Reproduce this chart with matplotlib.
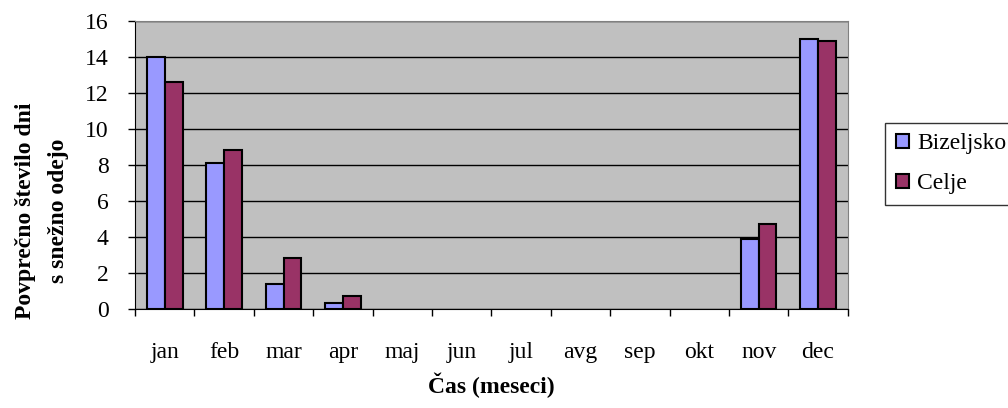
import numpy as np
import matplotlib.pyplot as plt
from matplotlib.patches import Patch

months = ['jan', 'feb', 'mar', 'apr', 'maj', 'jun', 'jul', 'avg', 'sep', 'okt', 'nov', 'dec']
bizeljsko = [14.0, 8.1, 1.4, 0.3, 0, 0, 0, 0, 0, 0, 3.9, 15.0]
celje = [12.6, 8.8, 2.8, 0.7, 0, 0, 0, 0, 0, 0, 4.7, 14.9]
yticks = [0, 2, 4, 6, 8, 10, 12, 14, 16]

plt.rcParams['font.family'] = ['Liberation Serif', 'DejaVu Serif']

fig = plt.figure(figsize=(10.08, 4.08), dpi=100)
ax = fig.add_axes([0.134, 0.243, 0.707, 0.706])
ax.set_facecolor('#c0c0c0')

x = np.arange(len(months))
w = 0.3


def edges(vals):
    # empty months get no outline
    return ['black' if v > 0 else 'none' for v in vals]


ax.bar(x - w / 2, bizeljsko, w, color='#9999ff', edgecolor=edges(bizeljsko), linewidth=1.5, zorder=3)
ax.bar(x + w / 2, celje, w, color='#993366', edgecolor=edges(celje), linewidth=1.5, zorder=3)

ax.set_xlim(-0.5, len(months) - 0.5)
ax.set_ylim(0, 16)
ax.set_yticks(yticks)
ax.tick_params(axis='y', labelsize=17, length=5, width=1, direction='out', pad=14)
ax.yaxis.grid(True, color='black', linewidth=1, zorder=1)

# month labels centred, tick marks between categories
ax.set_xticks(x)
ax.set_xticklabels(months)
ax.tick_params(axis='x', which='major', length=0, labelsize=17, pad=24)
ax.set_xticks(np.arange(-0.5, len(months)), minor=True)
ax.tick_params(axis='x', which='minor', length=5, width=1, direction='out')

for side in ['top', 'right']:
    ax.spines[side].set_color('#808080')
for side in ['left', 'bottom']:
    ax.spines[side].set_color('black')

ax.set_ylabel('Povprečno število dni\ns snežno odejo', fontsize=17, fontweight='bold',
              linespacing=1.75)
ax.yaxis.set_label_coords(-0.093, 0.34)
ax.set_xlabel('Čas (meseci)', fontsize=17, fontweight='bold', labelpad=7)

handles = [Patch(facecolor='#9999ff', edgecolor='black', linewidth=1.5),
           Patch(facecolor='#993366', edgecolor='black', linewidth=1.5)]
leg = fig.legend(handles, ['Bizeljsko', 'Celje'], loc='upper left',
                 bbox_to_anchor=(0.878, 0.699), borderaxespad=0, fontsize=17,
                 frameon=True, fancybox=False, handlelength=0.55, handleheight=0.55,
                 handletextpad=0.35, labelspacing=0.8, borderpad=0.45)
leg.get_frame().set_edgecolor('black')
leg.get_frame().set_linewidth(1)

plt.savefig('out.png', dpi=100)
